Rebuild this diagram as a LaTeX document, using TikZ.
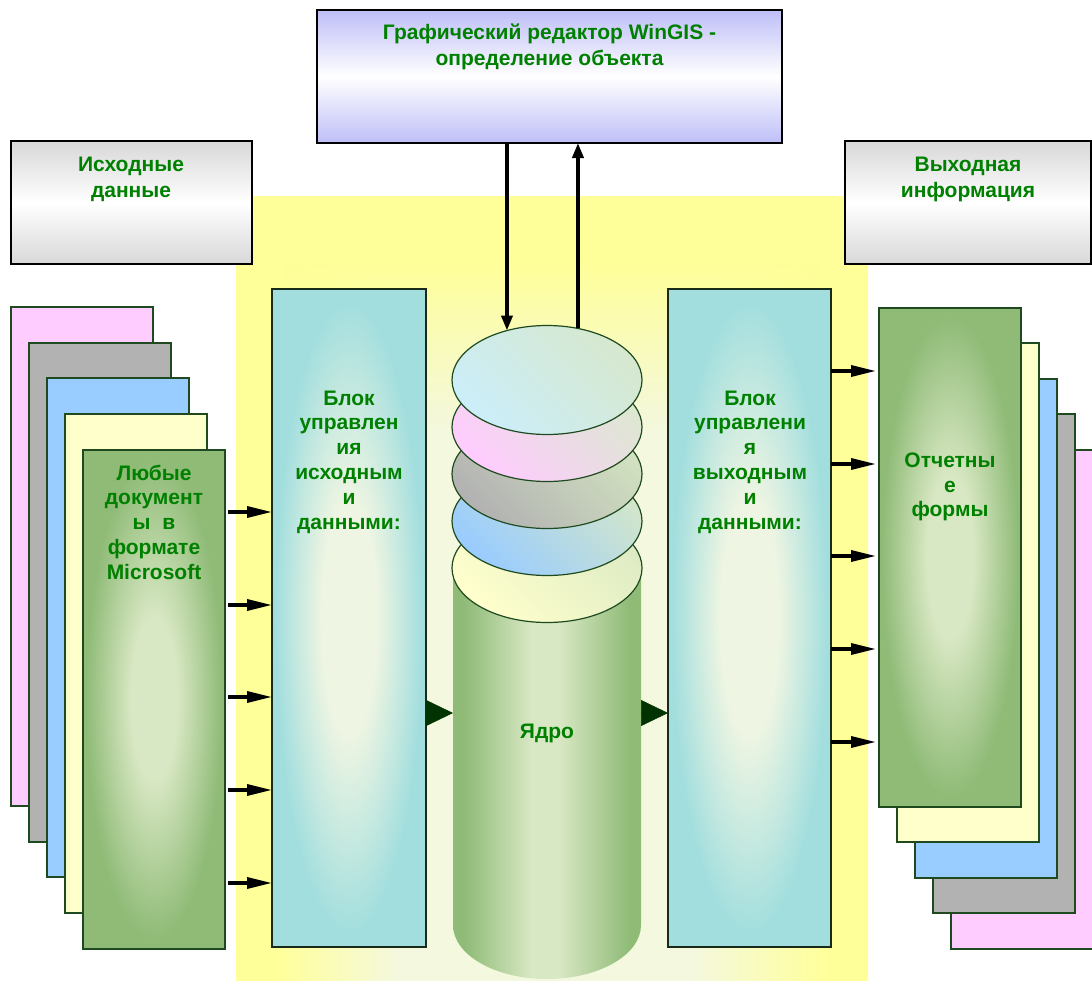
\documentclass[tikz,border=0pt]{standalone}
\usepackage{fontspec}
\setmainfont{Liberation Sans}
\usetikzlibrary{arrows.meta,shapes.geometric,fadings,shadows}

% palette
\definecolor{tgreen}{RGB}{0,128,0}
\definecolor{bgY}{HTML}{FFFF99}
\definecolor{bgP}{HTML}{F4F8DE}
\definecolor{lav}{HTML}{BEBEF8}
\definecolor{hdrG}{HTML}{D8D8D8}
\definecolor{tealB}{HTML}{A2DEDE}
\definecolor{tealP}{HTML}{EEF5E2}
\definecolor{gE}{HTML}{8FBB77}
\definecolor{gL}{HTML}{D9E8C4}
\definecolor{docB}{HTML}{1F4A1F}
\definecolor{blkB}{HTML}{1A2A1A}
\definecolor{pinkD}{HTML}{FFCCFF}
\definecolor{grayD}{HTML}{B2B2B2}
\definecolor{blueD}{HTML}{99CCFF}
\definecolor{yelD}{HTML}{FFFFCC}
\definecolor{cyanD}{HTML}{CCEEFA}
\definecolor{tipG}{HTML}{003300}
\definecolor{dG1}{HTML}{D6E8CE}
\definecolor{dG2}{HTML}{DCE8D0}
\definecolor{dG3}{HTML}{D2E2C0}
\definecolor{dG4}{HTML}{D2E6CA}
\definecolor{dG5}{HTML}{DDEBC4}

% soft glows and bands
\pgfdeclareradialshading{tealglow}{\pgfpoint{0bp}{0bp}}{color(0bp)=(tealP); color(9bp)=(tealP); color(24bp)=(tealB); color(50bp)=(tealB)}
\pgfdeclareradialshading{greenglow}{\pgfpoint{0bp}{0bp}}{color(0bp)=(gL); color(8bp)=(gL); color(24bp)=(gE); color(50bp)=(gE)}
\pgfdeclarehorizontalshading{bgband}{100bp}{color(0bp)=(bgY); color(28bp)=(bgY); color(38bp)=(bgP); color(61bp)=(bgP); color(72bp)=(bgY); color(100bp)=(bgY)}
\pgfdeclarehorizontalshading{coreband}{100bp}{color(0bp)=(gE); color(28bp)=(gE); color(46bp)=(gL); color(53bp)=(gL); color(72bp)=(gE); color(100bp)=(gE)}
\tikzfading[name=fadedown, top color=transparent!0, bottom color=transparent!100]

\begin{document}
\begin{tikzpicture}[x=0.5pt, y=-0.5pt,
  every node/.style={inner sep=0pt, outer sep=0pt},
  lbl/.style={text=tgreen, font=\bfseries\fontsize{10.5}{13}\selectfont, align=center},
  lblb/.style={text=tgreen, font=\bfseries\fontsize{10.5}{12.4}\selectfont, align=center},
  hdrbox/.style={draw=black, line width=1pt, minimum width=#1, minimum height=61.5pt,
    top color=hdrG, bottom color=hdrG, middle color=white,
    drop shadow={shadow xshift=0.7pt, shadow yshift=-0.7pt, opacity=0.3}},
  docpage/.style={draw=docB, line width=1pt, minimum width=71pt, minimum height=249.5pt, fill=#1},
  docfront/.style={draw=docB, line width=1pt, minimum width=71pt, minimum height=249.5pt, shade, shading=greenglow},
  ctrl/.style={draw=blkB, line width=1pt, minimum width=#1, minimum height=329pt, shade, shading=tealglow},
  disk/.style 2 args={ellipse, draw=docB, line width=0.6pt, minimum width=95pt, minimum height=54.5pt,
    top color=#1, bottom color=#2, shading angle=135},
  arr/.style={line width=1.7pt, -{Triangle[length=12.5pt, width=5.5pt]}},
  varr/.style={line width=1.8pt, -{Triangle[length=7.5pt, width=5.5pt]}},
  bigtip/.style={draw=tipG, line width=0.3pt, -{Triangle[length=13.5pt, width=13pt]}}]

\useasboundingbox (0,0) rectangle (1092,980);
\clip (0,0) rectangle (1092,980);
\fill[white] (0,0) rectangle (1092,980);

% yellow work area with a pale middle
\fill[bgY] (236,196) rectangle (868,980);
\shade[shading=bgband] (236,196) rectangle (868,980);
\fill[bgY] (236,196) rectangle (868,262);
\fill[bgY, path fading=fadedown] (236,260) rectangle (868,430);

% editor and the two headers
\node[draw=black, line width=1.2pt, minimum width=232.5pt, minimum height=66.5pt,
  top color=lav, bottom color=lav, middle color=white,
  drop shadow={shadow xshift=0.7pt, shadow yshift=-0.7pt, opacity=0.3}] (editor) at (549.5,76.5) {};
\node[lbl] (edtxt) at (549.5,47) {Графический редактор WinGIS -\\определение объекта};
\node[hdrbox=120.5pt] (inhead) at (131.5,202.5) {};
\node[lbl] (intxt) at (131,179) {Исходные\\данные};
\node[hdrbox=123pt] (outhead) at (968,202.5) {};
\node[lbl] (outtxt) at (968,179) {Выходная\\информация};

% input document stack
\node[docpage=pinkD] (ld1) at (82,556.5) {};
\node[docpage=grayD] (ld2) at (100,592) {};
\node[docpage=blueD] (ld3) at (118,627.5) {};
\node[docpage=yelD] (ld4) at (136,663) {};
\node[docfront] (ld5) at (154,699) {};
\node[lblb] (ldtxt) at (154,522) {Любые\\документ\\ы\ \ в\\формате\\Microsoft};

% output document stack
\node[docpage=pinkD] (rd1) at (1022,699) {};
\node[docpage=grayD] (rd2) at (1004,663) {};
\node[docpage=blueD] (rd3) at (986,628) {};
\node[docpage=yelD] (rd4) at (968,592.5) {};
\node[docfront] (rd5) at (950,557) {};
\node[lblb] (rdtxt) at (950,487) {Отчетны\\е\\формы};

% control blocks
\node[ctrl=77pt] (inblock) at (349,618) {};
\node[lblb] (inbtxt) at (349,462) {Блок\\управлен\\ия\\исходным\\и\\данными:};
\node[ctrl=81.5pt] (outblock) at (749.5,618) {};
\node[lblb] (outbtxt) at (750,462) {Блок\\управлени\\я\\выходным\\и\\данными:};

% core cylinder with stacked disks
\shade[shading=coreband] (453,568) -- (453,925)
  arc[start angle=180, end angle=0, x radius=94, y radius=54] -- (641,568) -- cycle;
\node[lbl, minimum width=94pt, minimum height=165.5pt] (core) at (547,733.5) {Ядро};
\node[disk={yelD}{dG5}] (d5) at (547,568) {};
\node[disk={blueD}{dG4}] (d4) at (547,521) {};
\node[disk={grayD}{dG3}] (d3) at (547,474) {};
\node[disk={pinkD}{dG2}] (d2) at (547,427) {};
\node[disk={cyanD}{dG1}] (d1) at (547,380) {};

% links to the editor
\draw[varr] (editor.south -| d1.129) -- (d1.129);
\draw[varr] (d1.59) -- (editor.south -| d1.59);

% flow through the core
\coordinate (mid) at (0,713);
\draw[bigtip] (inblock.east |- mid) -- (core.west |- mid);
\draw[bigtip] (core.east |- mid) -- (outblock.west |- mid);

% document feeds
\foreach \yy [count=\i] in {512,605,697,790,883} {
  \coordinate (lin\i) at (0,\yy);
  \draw[arr, shorten <=1.5pt] (ld5.east |- lin\i) -- (inblock.west |- lin\i);
}
\foreach \yy [count=\i] in {371,464,556,649,742} {
  \coordinate (rout\i) at (0,\yy);
  \draw[arr, shorten >=1.5pt] (outblock.east |- rout\i) -- (rd5.west |- rout\i);
}
\end{tikzpicture}
\end{document}
